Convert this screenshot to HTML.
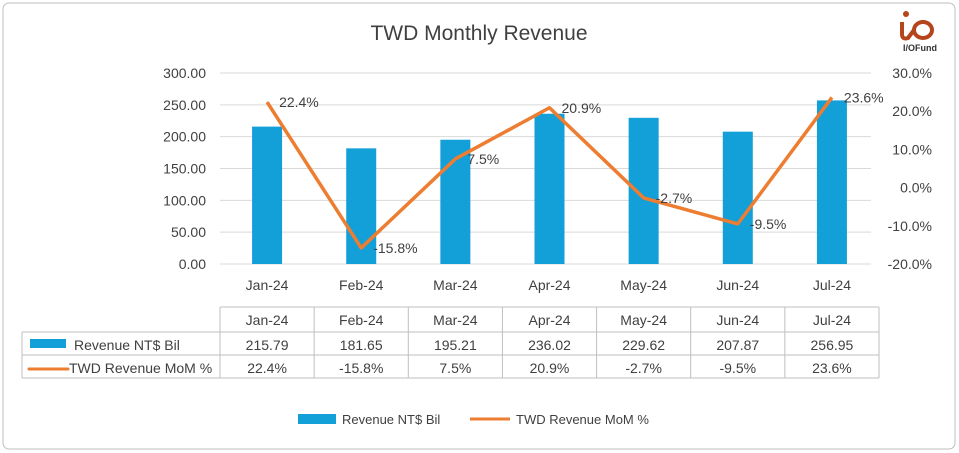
<!DOCTYPE html>
<html><head><meta charset="utf-8"><style>
body{margin:0;background:#fff;}
svg{display:block;font-family:"Liberation Sans",sans-serif;}
</style></head><body>
<svg id="c" width="959" height="453">
<rect x="3" y="3" width="952" height="446" rx="6" fill="#fff" stroke="#bfbfbf"/>
<text x="479" y="40" text-anchor="middle" font-size="21" fill="#404040">TWD Monthly Revenue</text>
<g>
<circle cx="906" cy="14" r="3" fill="#b5451b"/>
<path d="M902 22 L902 34 Q902 40 908 38 L914 30" fill="none" stroke="#b5451b" stroke-width="4"/>
<ellipse cx="923" cy="30" rx="9" ry="8" fill="none" stroke="#b5451b" stroke-width="4"/>
<text x="920" y="51" text-anchor="middle" font-size="9" font-weight="bold" fill="#333">I/OFund</text>
</g>
<g id="grid"></g><g id="bars"></g><g id="line"></g><g id="axes"></g><g id="table"></g>
<g>
<rect x="298" y="414" width="38" height="10" fill="#139fd8"/>
<text x="342" y="424" font-size="13" fill="#404040">Revenue NT$ Bil</text>
<line x1="470" y1="419" x2="510" y2="419" stroke="#ed7d31" stroke-width="3"/>
<text x="516" y="424" font-size="13" fill="#404040">TWD Revenue MoM %</text>
</g>
</svg>
<script>
const categories=["Jan-24","Feb-24","Mar-24","Apr-24","May-24","Jun-24","Jul-24"];
const revenue=[215.79,181.65,195.21,236.02,229.62,207.87,256.95];
const mom=[22.4,-15.8,7.5,20.9,-2.7,-9.5,23.6];
const leftTicks=[0,50,100,150,200,250,300];
const rightTicks=[-20,-10,0,10,20,30];
const NS="http://www.w3.org/2000/svg";
const X0=220,X1=879,Ytop=73,Ybot=264;
const cw=(X1-X0)/categories.length;
const xc=i=>X0+cw*(i+0.5);
const yL=v=>Ybot-(v/300)*(Ybot-Ytop);
const yR=v=>Ybot-((v+20)/50)*(Ybot-Ytop);
function mk(tag,attrs,parent,txt){const e=document.createElementNS(NS,tag);for(const k in attrs)e.setAttribute(k,attrs[k]);if(txt!==undefined)e.textContent=txt;document.getElementById(parent).appendChild(e);return e;}
leftTicks.forEach(t=>{
 const g=mk('line',{x1:X0,x2:X1-8,y1:yL(t),y2:yL(t),stroke:'#d9d9d9'},'grid');
 
 
 const l=mk('text',{x:206,y:yL(t)+5,'text-anchor':'end','font-size':14,fill:'#404040'},'axes',t.toFixed(2));
 
 
});
rightTicks.forEach(t=>{
 const l=mk('text',{x:932,y:yR(t)+5,'text-anchor':'end','font-size':14,fill:'#404040'},'axes',t.toFixed(1)+'%');
 
 
});
categories.forEach((c,i)=>{
 const b=mk('rect',{x:xc(i)-15,y:yL(revenue[i]),width:30,height:Ybot-yL(revenue[i]),fill:'#139fd8'},'bars');
 
 
 const l=mk('text',{x:xc(i),y:290,'text-anchor':'middle','font-size':14,fill:'#404040'},'axes',c);
 
 
});
const pl=mk('polyline',{points:mom.map((v,i)=>xc(i)+','+yR(v)).join(' '),fill:'none',stroke:'#ed7d31','stroke-width':3.5,'stroke-linejoin':'round'},'line');


mom.forEach((v,i)=>{
 const l=mk('text',{x:xc(i)+12,y:yR(v)+5,'font-size':14,fill:'#404040'},'line',v.toFixed(1)+'%');
 
 
});
const T='table',r0=307,r1=332,r2=355,r3=378,TL=22;
[[X0,r0,X1,r0],[TL,r1,X1,r1],[TL,r2,X1,r2],[TL,r3,X1,r3],[TL,r1,TL,r3]].forEach(a=>{
 const l=mk('line',{x1:a[0],y1:a[1],x2:a[2],y2:a[3],stroke:'#bfbfbf'},T);
 
 
});
for(let i=0;i<=categories.length;i++){
 const l=mk('line',{x1:X0+cw*i,y1:r0,x2:X0+cw*i,y2:r3,stroke:'#bfbfbf'},T);
 
 
}
categories.forEach((c,i)=>{
 const h=mk('text',{x:xc(i),y:r0+18,'text-anchor':'middle','font-size':14,fill:'#404040'},T,c);
 
 
 const a=mk('text',{x:xc(i),y:r1+18,'text-anchor':'middle','font-size':14,fill:'#404040'},T,revenue[i].toFixed(2));
 
 
 const b=mk('text',{x:xc(i),y:r2+18,'text-anchor':'middle','font-size':14,fill:'#404040'},T,mom[i].toFixed(1)+'%');
 
 
});
const s1=mk('rect',{x:30,y:339,width:36,height:9,fill:'#139fd8'},T);


const t1=mk('text',{x:74,y:r1+18,'font-size':14,fill:'#404040'},T,'Revenue NT$ Bil');


const s2=mk('line',{x1:29,y1:369,x2:68,y2:369,stroke:'#ed7d31','stroke-width':3,'stroke-linecap':'round'},T);


const t2=mk('text',{x:69,y:r2+18,'font-size':14,fill:'#404040'},T,'TWD Revenue MoM %');


</script>
</body></html>
